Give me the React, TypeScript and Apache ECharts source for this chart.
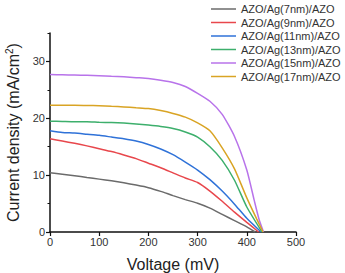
import React, { useEffect, useRef } from "react";
import * as echarts from "echarts";

// J–V curves of cells with AZO/Ag/AZO electrodes of different Ag thickness
const seriesNames = [
  "AZO/Ag(7nm)/AZO",
  "AZO/Ag(9nm)/AZO",
  "AZO/Ag(11nm)/AZO",
  "AZO/Ag(13nm)/AZO",
  "AZO/Ag(15nm)/AZO",
  "AZO/Ag(17nm)/AZO",
];
const seriesColors = ["#6b6b6b", "#e8474c", "#2f72d8", "#3daf6c", "#b873ea", "#d9a424"];

// common voltage grid (mV); each series ends at its own open-circuit voltage
const voltageGrid = [0, 25, 50, 75, 100, 125, 150, 175, 200, 225, 250, 275, 300, 325, 350, 375, 400];
const vocs = [417, 424, 429, 431, 434, 433];

// current density (mA/cm²) on the voltage grid
const j7 = [10.4, 10.15, 9.9, 9.6, 9.3, 9.0, 8.65, 8.25, 7.8, 7.15, 6.4, 5.7, 5.05, 4.2, 3.1, 2.0, 0.9];
const j9 = [16.4, 16.0, 15.6, 15.15, 14.65, 14.15, 13.55, 12.9, 12.1, 11.3, 10.4, 9.5, 8.7, 7.2, 5.4, 3.5, 1.7];
const j11 = [17.8, 17.5, 17.4, 17.2, 17.0, 16.7, 16.4, 16.0, 15.4, 14.6, 13.6, 12.3, 10.9, 9.2, 7.2, 4.9, 2.4];
const j13 = [19.5, 19.45, 19.4, 19.4, 19.3, 19.25, 19.15, 19.0, 18.8, 18.55, 18.2, 17.6, 16.7, 15.0, 12.6, 9.1, 4.4];
const j15 = [27.7, 27.65, 27.6, 27.55, 27.5, 27.4, 27.3, 27.15, 27.0, 26.7, 26.3, 25.6, 24.4, 23.0, 20.7, 16.8, 10.9];
const j17 = [22.3, 22.3, 22.3, 22.25, 22.2, 22.1, 22.0, 21.85, 21.7, 21.35, 20.85, 20.2, 19.2, 17.8, 14.8, 11.1, 6.0];

// extra points on the steep tail, just before Voc: [voltage, current]
const tail15: [number, number][] = [[415, 5.6], [425, 2.2]];
const tail17: [number, number][] = [[420, 2.3]];
const tails: [number, number][][] = [[], [], [], [], tail15, tail17];

const currents = [j7, j9, j11, j13, j15, j17];

const xTicks = [0, 100, 200, 300, 400, 500];
const yMajor = [0, 10, 20, 30];
const yMinor = [5, 15, 25, 35];

const FONT = "Liberation Sans, Arial, sans-serif";

export default function App() {
  const ref = useRef<HTMLDivElement>(null);

  useEffect(() => {
    document.body.style.margin = "0";
    if (!ref.current) return;
    const chart = echarts.init(ref.current, undefined, { renderer: "svg" });

    const series = seriesNames.map((name, i) => {
      const pts: [number, number][] = voltageGrid
        .map((v, k) => [v, currents[i][k]] as [number, number])
        .filter(([v]) => v < vocs[i]);
      return {
        name,
        type: "line",
        yAxisIndex: 0,
        data: [...pts, ...tails[i], [vocs[i], 0]],
        showSymbol: false,
        symbol: "none",
        smooth: 0.2,
        lineStyle: { width: 1.5, color: seriesColors[i] },
        itemStyle: { color: seriesColors[i] },
      };
    });

    chart.setOption({
      animation: false,
      textStyle: { fontFamily: FONT },
      grid: { left: 50, right: 49, top: 33, bottom: 41, containLabel: false, outerBoundsMode: "none" },
      legend: {
        orient: "vertical",
        left: 211,
        top: 3,
        padding: 0,
        icon: "rect",
        itemWidth: 25,
        itemHeight: 1.5,
        itemGap: 1.5,
        textStyle: { fontSize: 11, color: "#333", fontFamily: FONT, lineHeight: 12 },
        data: seriesNames,
      },
      xAxis: {
        type: "value",
        min: 0,
        max: 500,
        interval: 100,
        name: "Voltage (mV)",
        nameLocation: "middle",
        nameGap: 24,
        nameTextStyle: { fontSize: 16, color: "#222", fontFamily: FONT },
        axisLine: { onZero: false, lineStyle: { color: "#111", width: 1.5 } },
        axisTick: { show: true, length: 4, inside: false, lineStyle: { color: "#111", width: 1.2 }, customValues: xTicks },
        axisLabel: { fontSize: 11, color: "#333", margin: 4, customValues: xTicks },
        splitLine: { show: false },
      },
      yAxis: [
        {
          type: "value",
          min: 0,
          max: 35,
          interval: 10,
          position: "left",
          name: "Current density (mA/cm{sup|2})",
          nameLocation: "middle",
          nameGap: 27,
          nameTextStyle: {
            fontSize: 16,
            color: "#222",
            fontFamily: FONT,
            rich: { sup: { fontSize: 10, verticalAlign: "top", padding: [0, 0, 8, 0], color: "#222", fontFamily: FONT } },
          },
          axisLine: { show: true, onZero: false, lineStyle: { color: "#111", width: 1.5 } },
          axisTick: { show: true, length: 4, lineStyle: { color: "#111", width: 1.2 }, customValues: yMajor },
          axisLabel: { fontSize: 11, color: "#333", margin: 5, customValues: yMajor },
          splitLine: { show: false },
        },
        {
          type: "value",
          min: 0,
          max: 35,
          interval: 5,
          position: "left",
          axisLine: { show: false },
          axisTick: { show: true, length: 2.5, lineStyle: { color: "#111", width: 1 }, customValues: yMinor },
          axisLabel: { show: false },
          splitLine: { show: false },
        },
      ],
      series,
    });

    return () => chart.dispose();
  }, []);

  return <div ref={ref} style={{ width: 345, height: 273, background: "#fff" }} />;
}
